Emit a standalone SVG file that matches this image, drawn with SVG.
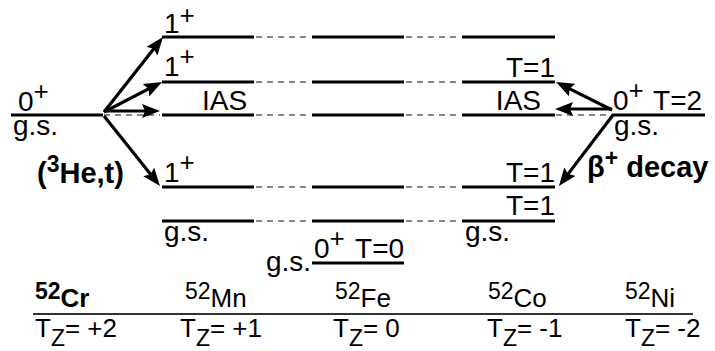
<svg xmlns="http://www.w3.org/2000/svg" width="715" height="351" viewBox="0 0 715 351">
<style>
text{font-family:"Liberation Sans",Arial,sans-serif;font-size:28px;fill:#000}
.b{font-weight:bold;font-size:29px}
.sup{font-size:23px}
.pl{font-size:26px}
.lv{stroke:#000;stroke-width:3;fill:none}
.dl{stroke:#888;stroke-width:2;stroke-dasharray:6 5;fill:none}
.ar{stroke:#000;stroke-width:3.2;fill:none;marker-end:url(#ah)}
.ax{stroke:#333;stroke-width:2}
.iso{font-size:26px}
.n52{font-size:23px}
</style>
<defs>
<marker id="ah" markerUnits="userSpaceOnUse" markerWidth="20" markerHeight="14" refX="11" refY="7" orient="auto">
<path d="M0,0 L18,7 L0,14 L3,7 z" fill="#000"/>
</marker>
</defs>

<g id="cr">
<line class="lv" x1="11" y1="115" x2="103" y2="115"/>
<text x="18" y="111">0<tspan class="pl" dy="-11">+</tspan></text>
<text x="13" y="135">g.s.</text>
</g>

<g id="mn">
<line class="lv" x1="162" y1="37" x2="254" y2="37"/>
<line class="lv" x1="162" y1="82" x2="254" y2="82"/>
<line class="lv" x1="162" y1="115" x2="254" y2="115"/>
<line class="lv" x1="162" y1="187" x2="254" y2="187"/>
<line class="lv" x1="162" y1="221" x2="254" y2="221"/>
<text x="164" y="33">1<tspan class="pl" dy="-9" font-size="25">+</tspan></text>
<text x="164" y="76">1<tspan class="pl" dy="-11">+</tspan></text>
<text x="202" y="110">IAS</text>
<text x="164" y="182">1<tspan class="pl" dy="-11">+</tspan></text>
<text x="164" y="241">g.s.</text>
</g>

<g id="fe">
<line class="lv" x1="312" y1="37" x2="404" y2="37"/>
<line class="lv" x1="312" y1="82" x2="404" y2="82"/>
<line class="lv" x1="312" y1="115" x2="404" y2="115"/>
<line class="lv" x1="312" y1="187" x2="404" y2="187"/>
<line class="lv" x1="312" y1="221" x2="404" y2="221"/>
<line class="lv" x1="312" y1="263" x2="404" y2="263"/>
<text x="266" y="271">g.s.</text>
<text x="314" y="258">0<tspan class="pl" dy="-11">+</tspan><tspan dy="11" dx="3"> T=0</tspan></text>
</g>

<g id="co">
<line class="lv" x1="462" y1="37" x2="555" y2="37"/>
<line class="lv" x1="462" y1="82" x2="555" y2="82"/>
<line class="lv" x1="462" y1="115" x2="555" y2="115"/>
<line class="lv" x1="462" y1="187" x2="555" y2="187"/>
<line class="lv" x1="462" y1="221" x2="555" y2="221"/>
<text x="555" y="77" text-anchor="end">T=1</text>
<text x="541" y="110" text-anchor="end">IAS</text>
<text x="555" y="182" text-anchor="end">T=1</text>
<text x="555" y="215" text-anchor="end">T=1</text>
<text x="465" y="241">g.s.</text>
</g>

<g id="ni">
<line class="lv" x1="612" y1="115" x2="705" y2="115"/>
<text x="613" y="110">0<tspan class="pl" dy="-11">+</tspan><tspan dy="11" dx="2"> T=2</tspan></text>
<text x="614" y="135">g.s.</text>
</g>

<g id="reaction-labels">
<text class="b" x="37" y="183">(<tspan class="sup" dy="-11">3</tspan><tspan dy="11">He,t)</tspan></text>
<text class="b" x="587" y="177">β<tspan class="sup" dy="-11">+</tspan><tspan dy="11"> decay</tspan></text>
</g>

<g id="connectors">
<line class="dl" x1="104" y1="115" x2="160" y2="115"/>
<line class="dl" x1="556" y1="115" x2="612" y2="115"/>
<line class="dl" x1="256" y1="37" x2="311" y2="37"/>
<line class="dl" x1="256" y1="82" x2="311" y2="82"/>
<line class="dl" x1="256" y1="115" x2="311" y2="115"/>
<line class="dl" x1="256" y1="187" x2="311" y2="187"/>
<line class="dl" x1="256" y1="221" x2="311" y2="221"/>
<line class="dl" x1="406" y1="37" x2="461" y2="37"/>
<line class="dl" x1="406" y1="82" x2="461" y2="82"/>
<line class="dl" x1="406" y1="115" x2="461" y2="115"/>
<line class="dl" x1="406" y1="187" x2="461" y2="187"/>
<line class="dl" x1="406" y1="221" x2="461" y2="221"/>
<line class="ar" x1="104" y1="112" x2="158.7" y2="42.5"/>
<line class="ar" x1="104" y1="112" x2="155.8" y2="85.2"/>
<line class="ar" x1="104" y1="111" x2="153" y2="111"/>
<line class="ar" x1="104" y1="116" x2="155.6" y2="180.5"/>
<line class="ar" x1="612" y1="110" x2="562.3" y2="85.1"/>
<line class="ar" x1="612" y1="109" x2="562" y2="109"/>
<line class="ar" x1="613" y1="115" x2="563.2" y2="180.4"/>
</g>

<g id="axis">
<line class="ax" x1="33" y1="314" x2="693" y2="314"/>
<text class="iso" x="35" y="307" font-weight="bold"><tspan class="n52" dy="-8">52</tspan><tspan dy="8">Cr</tspan></text>
<text class="iso" x="185" y="307"><tspan class="n52" dy="-8">52</tspan><tspan dy="8">Mn</tspan></text>
<text class="iso" x="335" y="307"><tspan class="n52" dy="-8">52</tspan><tspan dy="8">Fe</tspan></text>
<text class="iso" x="488" y="307"><tspan class="n52" dy="-8">52</tspan><tspan dy="8">Co</tspan></text>
<text class="iso" x="625" y="307"><tspan class="n52" dy="-8">52</tspan><tspan dy="8">Ni</tspan></text>
<text class="iso" x="35" y="337">T<tspan class="n52" dy="9">Z</tspan><tspan dy="-9">= +2</tspan></text>
<text class="iso" x="180" y="337">T<tspan class="n52" dy="9">Z</tspan><tspan dy="-9">= +1</tspan></text>
<text class="iso" x="333" y="337">T<tspan class="n52" dy="9">Z</tspan><tspan dy="-9">= 0</tspan></text>
<text class="iso" x="487" y="337">T<tspan class="n52" dy="9">Z</tspan><tspan dy="-9">= -1</tspan></text>
<text class="iso" x="625" y="337">T<tspan class="n52" dy="9">Z</tspan><tspan dy="-9">= -2</tspan></text>
</g>
</svg>
